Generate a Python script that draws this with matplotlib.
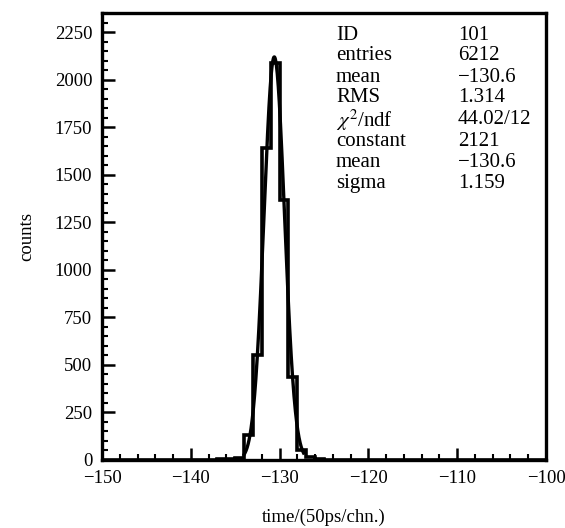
import numpy as np
import matplotlib
matplotlib.use("Agg")
import matplotlib.pyplot as plt
from matplotlib.ticker import MultipleLocator

plt.rcParams['font.family'] = ['Liberation Serif', 'DejaVu Serif']
plt.rcParams['mathtext.fontset'] = 'stix'
plt.rcParams['axes.unicode_minus'] = True

# Histogram data (bins of width 1 channel)
bin_edges = list(range(-150, -99))
peak_edges = [-137, -136, -135, -134, -133, -132, -131, -130, -129, -128, -127, -126, -125]
peak_counts = [3, 6, 12, 130, 550, 1640, 2090, 1370, 437, 55, 14, 5]

# Gaussian fit parameters (from the stats box)
fit_const = 2121
fit_mean = -130.6
fit_sigma = 1.159
fit_range = (-134.0, -127.3)

stat_labels = ["ID", "entries", "mean", "RMS", r"$\chi^2$/ndf", "constant", "mean", "sigma"]
stat_values = ["101", "6212", "\u2212130.6", "1.314", "44.02/12", "2121", "\u2212130.6", "1.159"]

x_ticks = [-150, -140, -130, -120, -110, -100]
y_ticks = [0, 250, 500, 750, 1000, 1250, 1500, 1750, 2000, 2250]

counts = np.zeros(len(bin_edges) - 1)
for e, c in zip(peak_edges[:-1], peak_counts):
    counts[bin_edges.index(e)] = c

fig = plt.figure(figsize=(5.65, 5.28), dpi=100)
ax = fig.add_axes([102/565, 1 - 460/528, (546-102)/565, (460-13)/528])

ax.stairs(counts, bin_edges, color='black', linewidth=2.6, baseline=0)

xf = np.linspace(fit_range[0], fit_range[1], 300)
yf = fit_const * np.exp(-0.5 * ((xf - fit_mean) / fit_sigma) ** 2)
ax.plot(xf, yf, color='black', linewidth=2.4)

ax.set_xlim(-150, -100)
ax.set_ylim(0, 2352)
ax.set_xticks(x_ticks)
ax.set_yticks(y_ticks)
ax.xaxis.set_minor_locator(MultipleLocator(2))
ax.yaxis.set_minor_locator(MultipleLocator(50))
ax.tick_params(which='major', direction='in', length=9, width=1.8, labelsize=13.5,
               top=False, right=False)
ax.tick_params(which='minor', direction='in', length=4.5, width=1.5, top=False, right=False)
ax.tick_params(axis='x', pad=7)
ax.tick_params(axis='y', pad=7)
for sp in ax.spines.values():
    sp.set_linewidth(2.4)

ax.set_xlabel("time/(50ps/chn.)", fontsize=13.5, labelpad=16)
ax.set_ylabel("counts", fontsize=13.5, labelpad=14)

row_y = [35, 56, 77, 98, 120, 141, 162, 183]
for lab, val, yp in zip(stat_labels, stat_values, row_y):
    fig.text(336/565, 1 - yp/528, lab, fontsize=15, va='center', ha='left')
    fig.text(458/565, 1 - yp/528, val, fontsize=15, va='center', ha='left')

fig.savefig("out.png", dpi=100)
